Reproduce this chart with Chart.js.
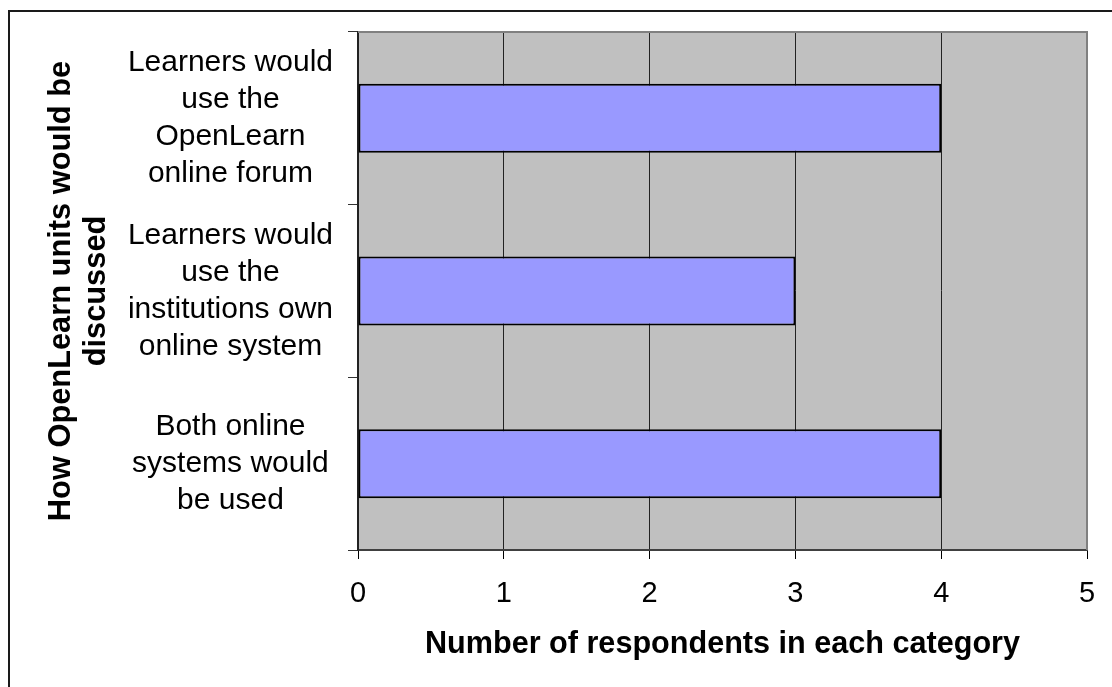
<!DOCTYPE html>
<html lang="en">
<head>
    <meta charset="UTF-8">
    <title>How OpenLearn units would be discussed</title>
    <style>
        body, html {
            margin: 0;
            padding: 0;
            background: #ffffff;
            overflow: hidden;
        }
        #chart {
            display: block;
        }
    </style>
</head>
<body>
    <canvas id="chart" width="1112" height="687"></canvas>

    <script src="https://cdn.jsdelivr.net/npm/chart.js"></script>
    <script>
        // data
        var categories = [
            ['Learners would', 'use the', 'OpenLearn', 'online forum'],
            ['Learners would', 'use the', 'institutions own', 'online system'],
            ['Both online', 'systems would', 'be used']
        ];
        var respondents = [4, 3, 4];
        var xTickMin = 0;
        var xTickMax = 5;
        var xTickStep = 1;
        var xTitle = 'Number of respondents in each category';
        var yTitle = ['How OpenLearn units would be', 'discussed'];

        var fontFamily = '"Liberation Sans", Arial, sans-serif';

        // gray plot area, outer frame, gray top/right edges
        var plotFrame = {
            id: 'plotFrame',
            beforeDraw: function(chart) {
                var ctx = chart.ctx;
                var a = chart.chartArea;
                ctx.save();
                ctx.fillStyle = '#ffffff';
                ctx.fillRect(0, 0, chart.width, chart.height);
                ctx.strokeStyle = '#1a1a1a';
                ctx.lineWidth = 2;
                ctx.strokeRect(9, 11, 1300, 900);
                ctx.fillStyle = '#c0c0c0';
                ctx.fillRect(a.left, a.top, a.right - a.left, a.bottom - a.top);
                ctx.restore();
            },
            afterDraw: function(chart) {
                var ctx = chart.ctx;
                var a = chart.chartArea;
                ctx.save();
                ctx.strokeStyle = '#808080';
                ctx.lineWidth = 2;
                ctx.beginPath();
                ctx.moveTo(a.left, a.top);
                ctx.lineTo(a.right, a.top);
                ctx.lineTo(a.right, a.bottom);
                ctx.stroke();
                ctx.restore();
            }
        };

        var ctx = document.getElementById('chart').getContext('2d');
        var chart = new Chart(ctx, {
            type: 'bar',
            data: {
                labels: categories,
                datasets: [{
                    data: respondents,
                    backgroundColor: '#9999ff',
                    borderColor: '#000000',
                    borderWidth: 2,
                    borderSkipped: false,
                    barPercentage: 0.8,
                    categoryPercentage: 0.5
                }]
            },
            options: {
                indexAxis: 'y',
                responsive: false,
                devicePixelRatio: 1,
                animation: false,
                layout: {
                    padding: { left: 40, top: 32, right: 25, bottom: 20 }
                },
                plugins: {
                    legend: { display: false },
                    tooltip: { enabled: false }
                },
                scales: {
                    x: {
                        min: xTickMin,
                        max: xTickMax,
                        afterFit: function(scale) {
                            scale.height = 687 - 20 - 550;
                            scale.paddingLeft = 0;
                            scale.paddingRight = 0;
                        },
                        ticks: {
                            stepSize: xTickStep,
                            color: '#000000',
                            padding: 18,
                            font: { family: fontFamily, size: 29, lineHeight: 1.2 }
                        },
                        grid: {
                            color: function(c) { return c.tick && c.tick.value === xTickMax ? '#808080' : '#222222'; },
                            lineWidth: 1,
                            tickLength: 9,
                            tickColor: '#000000'
                        },
                        border: { color: '#404040', width: 2 },
                        title: {
                            display: true,
                            text: xTitle,
                            color: '#000000',
                            font: { family: fontFamily, size: 30.6, weight: 'bold', lineHeight: 1.2 }
                        }
                    },
                    y: {
                        afterFit: function(scale) {
                            scale.width = 358 - 40;
                            scale.paddingTop = 0;
                            scale.paddingBottom = 0;
                        },
                        ticks: {
                            color: '#000000',
                            padding: 15,
                            crossAlign: 'center',
                            font: { family: fontFamily, size: 30, lineHeight: 1.23 }
                        },
                        grid: {
                            drawOnChartArea: false,
                            drawTicks: true,
                            tickLength: 10,
                            tickColor: '#333333',
                            lineWidth: 1
                        },
                        border: { color: '#222222', width: 2 },
                        title: {
                            display: true,
                            text: yTitle,
                            color: '#000000',
                            font: { family: fontFamily, size: 30.8, weight: 'bold', lineHeight: 1.14 }
                        }
                    }
                }
            },
            plugins: [plotFrame]
        });
    </script>
</body>
</html>
